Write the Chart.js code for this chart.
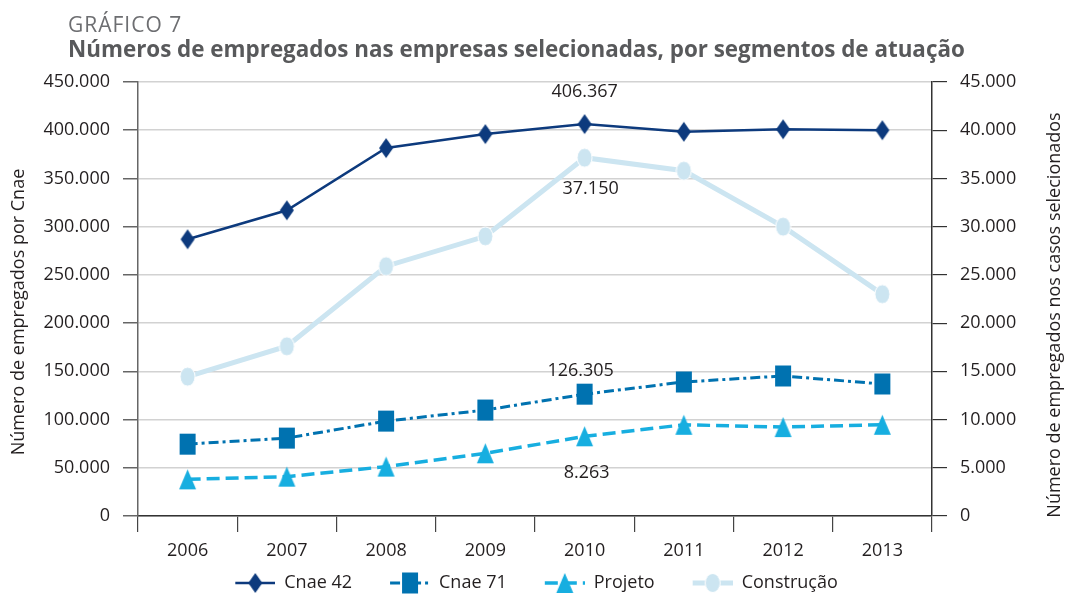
<!DOCTYPE html>
<html><head><meta charset="utf-8">
<script src="https://cdn.jsdelivr.net/npm/chart.js@4.4.1/dist/chart.umd.min.js"></script>
<style>html,body{margin:0;padding:0;background:#fff;overflow:hidden;}#wrap{width:1067px;height:594px;position:relative;}</style>
</head><body><div id="wrap"><canvas id="c" width="1067" height="594"></canvas></div>
<script>
// ---- data ----
const years = ['2006','2007','2008','2009','2010','2011','2012','2013'];
const cnae42 = [286900, 317000, 381500, 396000, 406367, 398400, 401000, 400000];
const cnae71 = [74500, 80800, 98400, 109900, 126305, 139000, 145200, 136900];
const projeto = [3800, 4080, 5120, 6500, 8263, 9460, 9220, 9460];
const construcao = [14450, 17600, 25900, 29000, 37150, 35800, 30000, 23000];
const seriesNames = ['Cnae 42','Cnae 71','Projeto','Construção'];
const leftMax = 450000, leftStep = 50000;
const rightMax = 45000, rightStep = 5000;
const headerSmall = 'GRÁFICO 7';
const headerTitle = 'Números de empregados nas empresas selecionadas, por segmentos de atuação';
const leftTitle = 'Número de empregados por Cnae';
const rightTitle = 'Número de empregados nos casos selecionados';
const noteIndex = 4; // 2010 annotated values

// ---- styling ----
const FONT = "'Open Sans', sans-serif";
const TXT = '#231f20';
const C42 = '#0d3a7d', C71 = '#0072b0', CPR = '#17aee0', CCO = '#cce5f1';
const fmt = v => v === 0 ? '0' : Math.round(v).toString().replace(/\B(?=(\d{3})+(?!\d))/g, '.');

function mk(w, h, fn){ const c = document.createElement('canvas'); c.width = w; c.height = h; fn(c.getContext('2d'), w, h); return c; }
function shape(g, kind, color, cx, cy, w, h){
  g.fillStyle = color; g.beginPath();
  if (kind === 'diamond'){ g.moveTo(cx, cy-h/2); g.lineTo(cx+w/2, cy); g.lineTo(cx, cy+h/2); g.lineTo(cx-w/2, cy); g.closePath(); g.fill(); }
  else if (kind === 'rect'){ g.fillRect(cx-w/2, cy-h/2, w, h); }
  else if (kind === 'tri'){ g.moveTo(cx, cy-h/2); g.lineTo(cx+w/2, cy+h/2); g.lineTo(cx-w/2, cy+h/2); g.closePath(); g.fill(); }
  else { g.ellipse(cx, cy, w/2, h/2, 0, 0, Math.PI*2); g.fill(); g.strokeStyle = '#fff'; g.lineWidth = 1; g.stroke(); }
}
const styles = [
  {kind:'diamond', color:C42, w:14, h:20, lw:2.5, dash:[]},
  {kind:'rect', color:C71, w:16, h:21, lw:3, dash:[10,4,3,4]},
  {kind:'tri', color:CPR, w:17, h:20, lw:3.5, dash:[13,6]},
  {kind:'ell', color:CCO, w:15, h:19, lw:5, dash:[]}
];
const markers = styles.map(s => mk(s.w+2, s.h+2, (g,w,h) => shape(g, s.kind, s.color, w/2, h/2, s.w, s.h)));
const LEG_GAP = 28, LEG_LINE = 40;
const legendMarks = styles.map(s => mk(LEG_GAP + LEG_LINE, 24, (g,w,h) => {
  g.strokeStyle = s.color; g.lineWidth = s.lw; g.setLineDash(s.dash);
  g.beginPath(); g.moveTo(LEG_GAP, 12); g.lineTo(w, 12); g.stroke(); g.setLineDash([]);
  shape(g, s.kind, s.color, LEG_GAP + LEG_LINE/2, 12, s.w, s.h);
}));

const values = [cnae42, cnae71, projeto, construcao];
const axes = ['y','y','y1','y1'];
const datasets = values.map((d, i) => ({
  label: seriesNames[i], data: d, yAxisID: axes[i],
  borderColor: styles[i].color, backgroundColor: styles[i].color,
  borderWidth: styles[i].lw, borderDash: styles[i].dash,
  pointStyle: markers[i], pointRadius: 9, pointHoverRadius: 9,
  tension: 0, fill: false
}));

const notes = [
  {ds:0, dy:-32, dx:0},
  {ds:3, dy:31, dx:6},
  {ds:1, dy:-23, dx:-4},
  {ds:2, dy:37, dx:2}
];

const extras = {
  id: 'extras',
  afterDraw(chart){
    const ctx = chart.ctx;
    ctx.save();
    ctx.textAlign = 'left'; ctx.textBaseline = 'alphabetic';
    ctx.fillStyle = '#6d6e71';
    ctx.font = "400 21px " + FONT;
    ctx.letterSpacing = '1px';
    ctx.fillText(headerSmall, 68, 32);
    ctx.letterSpacing = '0px';
    ctx.fillStyle = '#58595b';
    ctx.font = "700 21px " + FONT;
    const w = ctx.measureText(headerTitle).width;
    const size = 21 * 897 / w;
    ctx.font = "700 " + size.toFixed(2) + "px " + FONT;
    ctx.fillText(headerTitle, 68, 57);
    ctx.fillStyle = TXT;
    ctx.font = "400 18px " + FONT;
    ctx.textAlign = 'center'; ctx.textBaseline = 'middle';
    ctx.save(); ctx.translate(19, 312); ctx.rotate(-Math.PI/2); ctx.fillText(leftTitle, 0, 0); ctx.restore();
    ctx.save(); ctx.translate(1055, 315); ctx.rotate(-Math.PI/2); ctx.fillText(rightTitle, 0, 0); ctx.restore();
    ctx.font = "400 18px " + FONT;
    notes.forEach(n => {
      const ds = chart.data.datasets[n.ds];
      const sc = chart.scales[ds.yAxisID];
      const v = ds.data[noteIndex];
      const x = chart.scales.x.getPixelForValue(noteIndex) + n.dx;
      const y = sc.getPixelForValue(v) + n.dy;
      ctx.fillText(fmt(v), x, y);
    });
    ctx.restore();
  }
};

new Chart(document.getElementById('c'), {
  type: 'line',
  data: { labels: years, datasets },
  options: {
    responsive: false, animation: false, devicePixelRatio: 1,
    layout: { padding: { top: 82, left: 0, right: 22, bottom: 0 } },
    plugins: {
      tooltip: { enabled: false },
      title: { display: false },
      legend: {
        position: 'bottom', maxHeight: 30,
        labels: {
          usePointStyle: true, pointStyleWidth: LEG_GAP + LEG_LINE, padding: 10,
          color: TXT, font: { family: FONT, size: 18 },
          generateLabels(chart){
            const items = Chart.defaults.plugins.legend.labels.generateLabels(chart);
            items.forEach(it => { it.pointStyle = legendMarks[it.datasetIndex]; it.fontColor = TXT; });
            return items;
          }
        }
      }
    },
    scales: {
      x: {
        type: 'category', offset: true,
        grid: { offset: true, drawOnChartArea: false, tickLength: 16, color: '#444', tickColor: '#444', lineWidth: 1.2 },
        border: { color: '#333', width: 1.5 },
        ticks: { color: TXT, font: { family: FONT, size: 18 }, padding: 8, maxRotation: 0, autoSkip: false },
        afterFit: s => { s.height = 48; }
      },
      y: {
        position: 'left', min: 0, max: leftMax,
        ticks: { stepSize: leftStep, callback: v => fmt(v), color: TXT, font: { family: FONT, size: 18 }, padding: 13 },
        grid: { color: '#d2d2d2', lineWidth: 1.5, tickColor: '#666', tickLength: 15 },
        border: { color: '#666', width: 1.5 },
        afterFit: s => { s.width = 138; }
      },
      y1: {
        position: 'right', min: 0, max: rightMax,
        ticks: { stepSize: rightStep, callback: v => fmt(v), color: TXT, font: { family: FONT, size: 18 }, padding: 13 },
        grid: { drawOnChartArea: false, tickColor: '#333', tickLength: 15, lineWidth: 1.2 },
        border: { color: '#333', width: 1.5 },
        afterFit: s => { s.width = 113; }
      }
    }
  },
  plugins: [extras]
});
</script>
</body></html>
